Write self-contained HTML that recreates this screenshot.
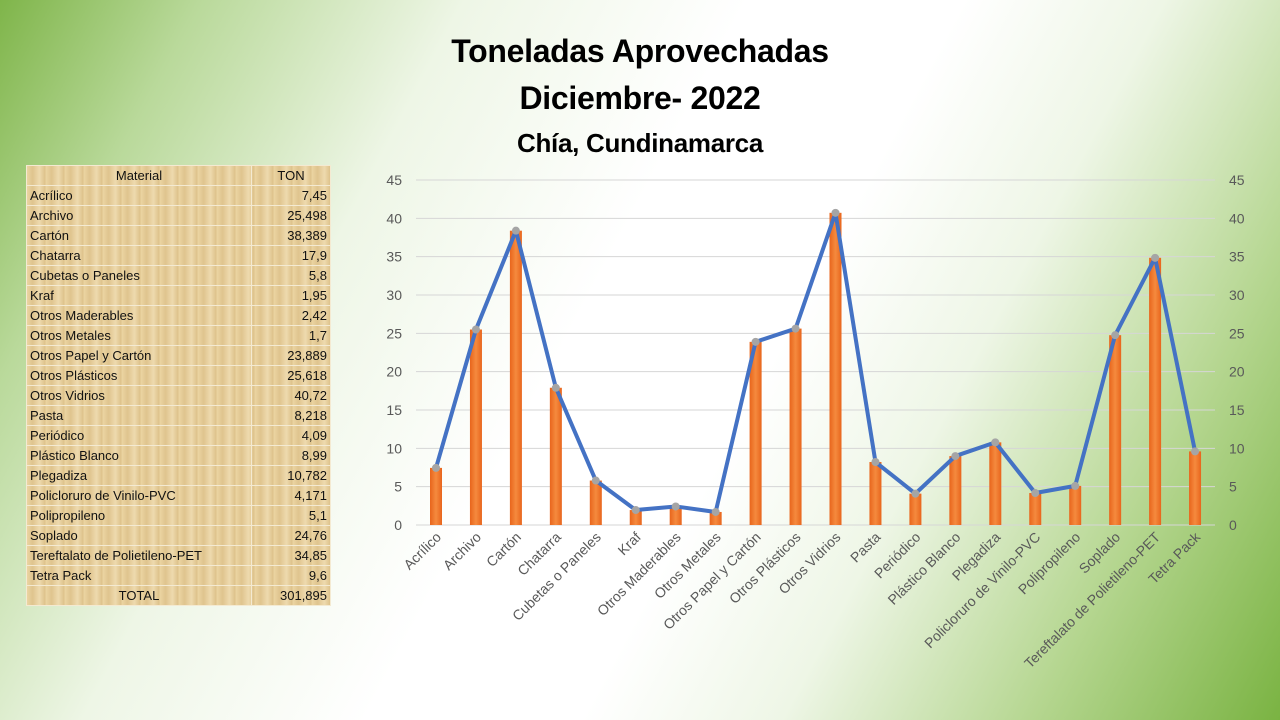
<!DOCTYPE html>
<html><head><meta charset="utf-8"><style>
body{margin:0;width:1280px;height:720px;overflow:hidden;font-family:"Liberation Sans",sans-serif;
background:linear-gradient(118deg,#7fb54a 0%,#b9d99a 12%,#eef6e6 28%,#ffffff 45%,#ffffff 58%,#eef6e6 70%,#b5d690 85%,#7ab342 100%);}
.t{position:absolute;left:0;width:1280px;text-align:center;font-weight:bold;color:#000;letter-spacing:-0.3px}
table{position:absolute;left:26px;top:165px;border-collapse:collapse;font-size:13px;color:#111;
background:repeating-linear-gradient(90deg,#ecd6a4 0,#dfc48e 6px,#eedaae 13px,#dcc088 19px);}
td{height:19px;border:1px solid #f4ead2;padding:0 3px;line-height:19px}
td:nth-child(1){width:218px}td:nth-child(2){width:72px;text-align:right}
</style></head><body>
<div class="t" style="top:33px;font-size:32px;left:0">Toneladas Aprovechadas</div>
<div class="t" style="top:80px;font-size:32px">Diciembre- 2022</div>
<div class="t" style="top:128px;font-size:26px;left:0">Chía, Cundinamarca</div>
<table>
<tr><td style="text-align:center">Material</td><td style="text-align:center">TON</td></tr>
<tr><td>Acrílico</td><td>7,45</td></tr>
<tr><td>Archivo</td><td>25,498</td></tr>
<tr><td>Cartón</td><td>38,389</td></tr>
<tr><td>Chatarra</td><td>17,9</td></tr>
<tr><td>Cubetas o Paneles</td><td>5,8</td></tr>
<tr><td>Kraf</td><td>1,95</td></tr>
<tr><td>Otros Maderables</td><td>2,42</td></tr>
<tr><td>Otros Metales</td><td>1,7</td></tr>
<tr><td>Otros Papel y Cartón</td><td>23,889</td></tr>
<tr><td>Otros Plásticos</td><td>25,618</td></tr>
<tr><td>Otros Vidrios</td><td>40,72</td></tr>
<tr><td>Pasta</td><td>8,218</td></tr>
<tr><td>Periódico</td><td>4,09</td></tr>
<tr><td>Plástico Blanco</td><td>8,99</td></tr>
<tr><td>Plegadiza</td><td>10,782</td></tr>
<tr><td>Policloruro de Vinilo-PVC</td><td>4,171</td></tr>
<tr><td>Polipropileno</td><td>5,1</td></tr>
<tr><td>Soplado</td><td>24,76</td></tr>
<tr><td>Tereftalato de Polietileno-PET</td><td>34,85</td></tr>
<tr><td>Tetra Pack</td><td>9,6</td></tr>
<tr><td style="text-align:center">TOTAL</td><td>301,895</td></tr>
</table>
<svg id="c" width="1280" height="720" style="position:absolute;left:0;top:0">
<defs><linearGradient id="g" x1="0" x2="1"><stop offset="0" stop-color="#e8651c"/><stop offset=".5" stop-color="#f58a3e"/><stop offset="1" stop-color="#e8651c"/></linearGradient></defs>
</svg>
<script>
const v=[7.45,25.498,38.389,17.9,5.8,1.95,2.42,1.7,23.889,25.618,40.72,8.218,4.09,8.99,10.782,4.171,5.1,24.76,34.85,9.6];
const n=["Acrílico","Archivo","Cartón","Chatarra","Cubetas o Paneles","Kraf","Otros Maderables","Otros Metales","Otros Papel y Cartón","Otros Plásticos","Otros Vidrios","Pasta","Periódico","Plástico Blanco","Plegadiza","Policloruro de Vinilo-PVC","Polipropileno","Soplado","Tereftalato de Polietileno-PET","Tetra Pack"];
let s="";const y0=525,k=345/45,x=i=>436+i*39.95;
for(let t=0;t<=45;t+=5){const y=y0-t*k;
s+=`<line x1="416" x2="1215" y1="${y}" y2="${y}" stroke="#d6d6d6"/>`;
s+=`<text x="402" y="${y+5}" text-anchor="end" font-size="14" fill="#595959">${t}</text>`;
s+=`<text x="1229" y="${y+5}" font-size="14" fill="#595959">${t}</text>`;}
let p="";
v.forEach((d,i)=>{const h=d*k;s+=`<rect x="${x(i)-6}" y="${y0-h}" width="12" height="${h}" fill="url(#g)"/>`;
p+=(i?"L":"M")+x(i)+","+(y0-h);
s+=`<text transform="translate(${x(i)+6},538) rotate(-45)" text-anchor="end" font-size="14" fill="#595959">${n[i]}</text>`;});
s+=`<path d="${p}" fill="none" stroke="#4472c4" stroke-width="4" stroke-linejoin="round"/>`;
v.forEach((d,i)=>{s+=`<circle cx="${x(i)}" cy="${y0-d*k}" r="4" fill="#a5a5a5"/>`;});
document.getElementById("c").innerHTML+=s;
</script>
</body></html>
